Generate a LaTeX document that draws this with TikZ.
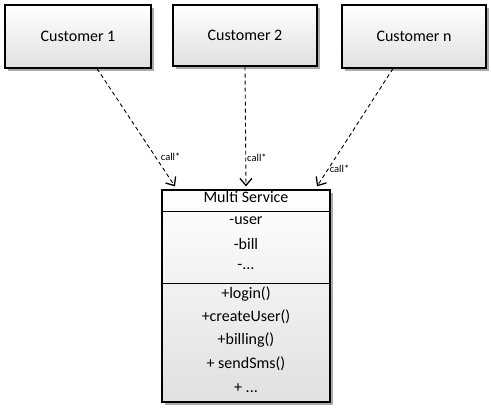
\documentclass[tikz,border=0pt]{standalone}
\usepackage{fontspec}
\setmainfont{Carlito}
\usetikzlibrary{arrows.meta,shadows,calc}
\begin{document}
\begin{tikzpicture}[x=1pt,y=-1pt,
  boxstyle/.style={draw=black,line width=1.2pt,top color=white,bottom color=black!12,
    drop shadow={shadow xshift=2.5pt,shadow yshift=-3pt,fill=black!55,opacity=0.6},
    inner sep=0pt,font=\fontsize{16}{18}\selectfont},
  member/.style={font=\fontsize{16}{18}\selectfont,inner sep=0pt},
  callarrow/.style={dashed,dash pattern=on 4pt off 3pt,line width=0.9pt,
    -{Straight Barb[length=7pt,width=12pt,line width=1.3pt]}},
  calllabel/.style={font=\fontsize{10.5}{12}\selectfont,inner sep=0pt,anchor=west}]
\useasboundingbox (0,0) rectangle (491,411);
\node[boxstyle,minimum width=146pt,minimum height=63pt] (c1) at (78,36.5) {Customer 1};
\node[boxstyle,minimum width=144pt,minimum height=61pt] (c2) at (245,35.5) {Customer 2};
\node[boxstyle,minimum width=144pt,minimum height=63pt] (cn) at (414,36.5) {Customer n};
\node[boxstyle,minimum width=168pt,minimum height=212pt] (svc) at (246,296) {};
\node[member] (title) at (246,197) {Multi Service};
\node[member] (m1) at (246,221) {-user};
\node[member] (m2) at (246,244) {-bill};
\node[member] (m3) at (246,267) {-...};
\node[member] (o1) at (246,294) {+login()};
\node[member] (o2) at (246,317) {+createUser()};
\node[member] (o3) at (246,340) {+billing()};
\node[member] (o4) at (246,364) {+ sendSms()};
\node[member] (o5) at (246,388) {+ ...};
\draw[line width=1pt] (svc.west |- 0,212) -- (svc.east |- 0,212);
\draw[line width=1pt] (svc.west |- 0,284) -- (svc.east |- 0,284);
\draw[callarrow] ([xshift=19pt]c1.south) -- ([xshift=-71pt,yshift=3pt]svc.north)
  node[calllabel,pos=0.75,xshift=5pt] (l1) {call*};
\draw[callarrow] (c2.south) -- ([yshift=3pt]svc.north)
  node[calllabel,pos=0.76,xshift=1pt] (l2) {call*};
\draw[callarrow] ([xshift=-21pt]cn.south) -- ([xshift=71pt,yshift=3pt]svc.north)
  node[calllabel,pos=0.85,xshift=1pt] (l3) {call*};
\end{tikzpicture}
\end{document}
